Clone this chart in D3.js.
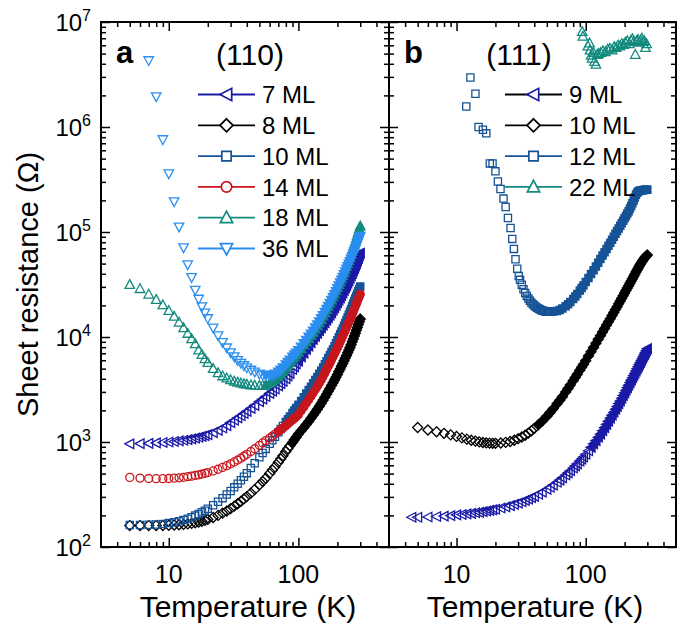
<!DOCTYPE html>
<html lang="en">
<head>
<meta charset="UTF-8">
<title>Sheet resistance vs temperature</title>
<script src="https://d3js.org/d3.v7.min.js"></script>
<style>
  body { margin: 0; background: #fff; }
  svg text { font-family: "Liberation Sans", Arial, sans-serif; fill: #000; }
  .tick line { stroke: #000; stroke-width: 1.5; }
</style>
</head>
<body>
<div id="chart"></div>
<script>
// ---- data (temperature in K, sheet resistance in ohm) ----

// panel a (110): shared temperature grid
const gridA = [5,6,7,8,9,10,11,12,13,14,15,16,17,18,19,20,
  22,24,26,28,30,32,34,36,38,40,
  43,46,50,53,56,60,63,66,70,73,76,80,83,86,90,93,96,100,
  105,110,115,120,125,130,135,140,145,150,155,160,165,170,175,180,185,190,195,200,
  205,210,215,220,225,230,235,240,245,250,255,260,265,270,275,280,285,290,295,300];

const r7 = [960,965,970,980,990,1000,1012,1025,1040,1055,1070,1090,1110,1130,1150,1175,
  1230,1290,1360,1430,1530,1610,1700,1780,1870,1960,
  2090,2230,2420,2560,2710,2900,3050,3200,3420,3600,3780,4000,4250,4500,4900,5200,5550,5900,
  6450,7000,7600,8200,8850,9500,10150,10800,11500,12200,12950,13700,14500,15300,16150,17000,18000,19000,20100,21200,
  22400,23600,24900,26300,27800,29300,30900,32600,34400,36300,38300,40400,42600,45000,47400,50000,52900,56000,59400,63000];

const r8 = [160,160,160,160,160,161,162,163,164,166,168,170,173,176,179,183,
  191,200,210,220,232,245,258,272,287,302,
  326,352,390,420,452,500,540,580,640,690,740,810,865,920,990,1050,1110,1190,
  1280,1370,1470,1570,1680,1800,1920,2050,2190,2340,2500,2670,2850,3040,3240,3450,3670,3900,4140,4400,
  4680,4970,5280,5600,5940,6300,6680,7080,7500,7940,8450,9000,9580,10200,10860,11570,12320,13120,13970,14880];

const r10 = [162,162,163,164,166,169,172,176,181,186,192,199,206,214,222,231,
  250,270,292,316,342,370,400,432,466,505,
  565,628,715,785,860,960,1040,1120,1240,1330,1420,1550,1650,1750,1890,2000,2110,2260,
  2460,2670,2890,3120,3360,3620,3890,4170,4470,4780,5130,5500,5890,6300,6730,7180,7650,8150,8700,9300,
  9930,10600,11300,12000,12800,13600,14500,15400,16400,17400,18500,19600,20800,22000,23300,24600,25900,27300,28700,30200];

const r14 = [460,453,449,447,447,449,452,456,461,467,473,480,487,495,503,512,
  530,550,572,595,620,646,673,702,732,763,
  812,862,930,980,1030,1090,1140,1190,1260,1310,1360,1430,1490,1550,1620,1680,1740,1820,
  1990,2160,2340,2530,2730,2940,3160,3390,3640,3900,4220,4550,4900,5270,5660,6060,6490,6940,7410,7900,
  8450,9020,9620,10250,10900,11600,12350,13100,13850,14600,15500,16450,17450,18500,19600,20750,21950,23200,24350,25500];

const r18 = [31500,28800,25500,22700,20200,17800,15700,13800,12200,10800,9600,8600,7500,6800,6200,5700,
  5000,4550,4250,4050,3900,3790,3700,3630,3580,3540,
  3490,3460,3440,3450,3500,3620,3750,3900,4150,4400,4700,5100,5450,5750,6150,6450,6750,7150,
  7700,8350,9000,9650,10350,11100,11900,12750,13650,14650,15800,17000,18250,19600,21000,22500,24100,25800,27600,29500,
  31500,33600,35900,38300,40900,43700,46700,49900,53300,57000,61000,65300,70000,75000,80500,86500,93000,100000,107000,114000];

const r36 = [null,null,4.3e6,1.95e6,7.6e5,3.6e5,1.95e5,1.12e5,7.1e4,4.9e4,3.7e4,2.8e4,2.3e4,1.95e4,1.7e4,1.5e4,
  12200,10300,8900,7900,7100,6500,6000,5650,5350,5100,
  4850,4650,4450,4350,4300,4300,4350,4450,4650,4850,5100,5450,5750,6050,6450,6750,7050,7450,
  8050,8700,9350,10000,10700,11450,12250,13100,14000,15000,16100,17250,18450,19700,21000,22400,23900,25500,27200,29000,
  30900,32900,35000,37200,39500,41900,44400,47000,49700,52500,55500,58700,62100,65700,69500,73500,77700,82100,86700,91500];

// panel b (111)
const gridB = [4.5].concat(gridA);

const r9 = [192,
  192,193,195,197,199,202,204,207,209,212,214,217,220,223,226,229,
  235,241,248,255,262,270,278,286,295,304,
  318,333,354,371,389,414,434,455,485,508,532,565,592,620,658,688,720,765,
  825,890,960,1030,1110,1190,1280,1370,1470,1580,1690,1800,1920,2050,2180,2320,2460,2610,2770,2940,
  3110,3290,3480,3680,3880,4090,4300,4520,4750,4990,5230,5480,5740,6000,6270,6550,6840,7130,7430,7740];

const r10b = [null,
  1375,1300,1250,1210,1170,1130,1095,1065,1040,1020,1003,990,980,975,972,972,
  978,992,1012,1040,1075,1115,1160,1215,1280,1350,
  1460,1580,1760,1910,2070,2310,2500,2700,3000,3240,3490,3840,4120,4410,4820,5140,5480,5950,
  6600,7250,7950,8700,9500,10300,11150,12050,13000,13950,14950,16000,17100,18250,19450,20700,22000,23350,24750,26200,
  27700,29250,30850,32500,34200,35950,37750,39600,41500,43450,45400,47400,49300,51200,53000,54800,56400,57900,59300,60500];

const t12 = [11.9,12.8,14.0,14.8,16.0,17.0,18.1,19.0,20.0,20.9,21.9,23.1,24.0,25.0,26.2,27.0,27.8,28.6,29.5,30.3,
  31,32,33,34,35,36,37,38,39,40,41,42,43,44,45,46,47,48,49,50,51,52,53,54,
  56,60,63,66,70,73,76,80,83,86,90,93,96,100,
  105,110,115,120,125,130,135,140,145,150,155,160,165,170,175,180,185,190,195,200,
  205,210,215,220,225,230,235,240,245,250,255,260,265,270,275,280,285,290,295,300];
const r12 = [1.57e6,2.96e6,2.07e6,1.0e6,9.4e5,8.7e5,4.5e5,4.5e5,3.78e5,3.03e5,2.57e5,2.08e5,1.73e5,1.36e5,1.09e5,8.6e4,6.9e4,5.5e4,4.46e4,3.8e4,
  35000,31500,28500,26300,24600,23200,22100,21200,20500,19900,19400,19000,18650,18350,18100,17900,17750,17600,17500,17450,17400,17400,17400,17450,
  17500,17700,18100,18700,19600,20500,21500,23000,24300,25700,27700,29300,31000,33400,
  36500,39800,43300,47000,51000,55200,59600,64200,69000,74000,79200,84600,90200,96000,102000,108000,114500,121000,128000,135000,
  142000,150000,158000,167000,177000,188000,200000,213000,226000,237000,243000,246000,248000,249000,250000,251000,251000,252000,252000,253000];

const t22 = [94,95,104,107,108,110,112,115,117,120,
  123,126,131,136,142,148,154,160,166,172,
  178,184,190,196,203,210,217,224,230,236,
  242,248,254,260,266,272,278,284,290,296];
const r22 = [8.1e6,7.3e6,5.9e6,6.3e6,5.4e6,4.8e6,4.5e6,5.1e6,4.2e6,3.95e6,
  4.9e6,5.0e6,5.1e6,5.3e6,5.2e6,5.5e6,5.6e6,5.4e6,5.8e6,5.7e6,
  6.0e6,5.9e6,6.2e6,6.1e6,6.4e6,6.6e6,6.2e6,6.7e6,6.9e6,6.5e6,
  4.9e6,6.6e6,6.8e6,6.4e6,6.7e6,7.0e6,6.5e6,6.6e6,5.7e6,6.2e6];

// axis ticks
const xMajor = [10, 100];
const xMinor = [4,5,6,7,8,9,20,30,40,50,60,70,80,90,200,300,400];
const yMajor = [1e2,1e3,1e4,1e5,1e6,1e7];
const yExp = [2,3,4,5,6,7];

// ---- layout ----
const W = 685, H = 627;
const plotTop = 22, plotBottom = 547;

const navy = "#1a1aa6", blue = "#165396", red = "#c8161d", teal = "#138a7e", sky = "#2b8ef0";

// solid: temperature above which the dense original markers merge into a solid band
const panels = [
  { x0: 101, x1: 389, letter: "a", letterX: 116, orient: "(110)", orientX: 250,
    legX0: 198, legX1: 255, legM: 226.5, legT: 262, titleX: 248,
    series: [
      { label: "7 ML",  t: gridA, r: r7,  color: navy,   line: navy,   shape: "left",    solid: 100 },
      { label: "8 ML",  t: gridA, r: r8,  color: "#000", line: "#000", shape: "diamond", solid: 90 },
      { label: "10 ML", t: gridA, r: r10, color: blue,   line: blue,   shape: "square",  solid: 80 },
      { label: "14 ML", t: gridA, r: r14, color: red,    line: red,    shape: "circle",  solid: 70 },
      { label: "18 ML", t: gridA, r: r18, color: teal,   line: teal,   shape: "up",      solid: 56 },
      { label: "36 ML", t: gridA, r: r36, color: sky,    line: sky,    shape: "down",    solid: 56 }
    ] },
  { x0: 389, x1: 676, letter: "b", letterX: 404, orient: "(111)", orientX: 519,
    legX0: 505, legX1: 562, legM: 533.5, legT: 569, titleX: 535,
    series: [
      { label: "9 ML",  t: gridB, r: r9,   color: navy,   line: "#000", shape: "left",    solid: 110 },
      { label: "10 ML", t: gridB, r: r10b, color: "#000", line: "#000", shape: "diamond", solid: 43 },
      { label: "12 ML", t: t12,   r: r12,  color: blue,   line: blue,   shape: "square",  solid: 56 },
      { label: "22 ML", t: t22,   r: r22,  color: teal,   line: teal,   shape: "up",      solid: 1e9 }
    ] }
];

// open marker outlines, centred on 0,0
function markerPath(kind, a) {
  switch (kind) {
    case "left":    return `M${-a},0L${0.8*a},${-0.95*a}L${0.8*a},${0.95*a}Z`;
    case "up":      return `M0,${-a}L${0.95*a},${0.75*a}L${-0.95*a},${0.75*a}Z`;
    case "down":    return `M0,${a}L${0.95*a},${-0.75*a}L${-0.95*a},${-0.75*a}Z`;
    case "diamond": return `M0,${-a}L${a},0L0,${a}L${-a},0Z`;
    case "square": { const s = 0.72*a; return `M${-s},${-s}H${s}V${s}H${-s}Z`; }
    case "circle": { const c = 0.8*a; return `M${c},0A${c},${c} 0 1,1 ${-c},0A${c},${c} 0 1,1 ${c},0Z`; }
  }
}

const svg = d3.select("#chart").append("svg")
  .attr("width", W).attr("height", H);

const y = d3.scaleLog().domain([1e2, 1e7]).range([plotBottom, plotTop]);

const yMinor = [];
yMajor.slice(0, -1).forEach(v => { for (let k = 2; k <= 9; k++) yMinor.push(v * k); });

function tickAxis(g, axis, vals, size) {
  g.call(axis.tickValues(vals).tickSize(size).tickFormat(""));
  g.select(".domain").remove();
}

panels.forEach((p, pi) => {
  const x = d3.scaleLog().domain([3, 500]).range([p.x0, p.x1]);
  const g = svg.append("g");

  g.append("clipPath").attr("id", "clip" + pi)
    .append("rect")
    .attr("x", p.x0).attr("y", plotTop)
    .attr("width", p.x1 - p.x0).attr("height", plotBottom - plotTop);

  const plot = g.append("g").attr("clip-path", `url(#clip${pi})`);

  p.series.forEach(s => {
    const pts = s.t.map((t, i) => [t, s.r[i]]).filter(d => d[1] != null);
    plot.append("g")
      .selectAll("path")
      .data(pts)
      .join("path")
      .attr("transform", d => `translate(${x(d[0])},${y(d[1])})`)
      .attr("d", markerPath(s.shape, 5))
      .attr("fill", d => d[0] >= s.solid ? s.color : "none")
      .attr("stroke", s.color)
      .attr("stroke-width", 1.3);
  });

  // ticks on all four sides, pointing inward
  [[xMajor, 9], [xMinor, 5]].forEach(([vals, len]) => {
    tickAxis(g.append("g").attr("transform", `translate(0,${plotBottom})`), d3.axisBottom(x), vals, -len);
    tickAxis(g.append("g").attr("transform", `translate(0,${plotTop})`), d3.axisTop(x), vals, -len);
  });
  [[yMajor, 9], [yMinor, 5]].forEach(([vals, len]) => {
    tickAxis(g.append("g").attr("transform", `translate(${p.x0},0)`), d3.axisLeft(y), vals, -len);
    tickAxis(g.append("g").attr("transform", `translate(${p.x1},0)`), d3.axisRight(y), vals, -len);
  });

  g.append("rect")
    .attr("x", p.x0).attr("y", plotTop)
    .attr("width", p.x1 - p.x0).attr("height", plotBottom - plotTop)
    .attr("fill", "none").attr("stroke", "#000").attr("stroke-width", 2);

  // x tick labels and title
  g.selectAll("text.xlab")
    .data(xMajor)
    .join("text")
    .attr("class", "xlab")
    .attr("x", d => x(d))
    .attr("y", 583)
    .attr("text-anchor", "middle")
    .attr("font-size", 25)
    .text(d => d);

  g.append("text")
    .attr("x", p.titleX).attr("y", 617)
    .attr("text-anchor", "middle")
    .attr("font-size", 30)
    .text("Temperature (K)");

  // panel letter and orientation
  g.append("text")
    .attr("x", p.letterX).attr("y", 63)
    .attr("font-size", 31).attr("font-weight", "bold")
    .text(p.letter);
  g.append("text")
    .attr("x", p.orientX).attr("y", 65)
    .attr("text-anchor", "middle")
    .attr("font-size", 30)
    .text(p.orient);

  // legend
  const leg = g.selectAll("g.leg")
    .data(p.series)
    .join("g")
    .attr("class", "leg")
    .attr("transform", (d, i) => `translate(0,${94.5 + i * 30.8})`);
  leg.append("line")
    .attr("x1", p.legX0).attr("x2", p.legX1)
    .attr("stroke", d => d.line).attr("stroke-width", 1.8);
  leg.append("path")
    .attr("transform", `translate(${p.legM},0)`)
    .attr("d", d => markerPath(d.shape, 6.5))
    .attr("fill", "#fff")
    .attr("stroke", d => d.color)
    .attr("stroke-width", 1.7);
  leg.append("text")
    .attr("x", p.legT).attr("y", 8.6)
    .attr("font-size", 24)
    .text(d => d.label);
});

// y tick labels (left panel only)
const ylab = svg.selectAll("text.ylab")
  .data(yExp)
  .join("text")
  .attr("class", "ylab")
  .attr("x", 91)
  .attr("y", d => y(Math.pow(10, d)) + 9)
  .attr("text-anchor", "end")
  .attr("font-size", 24);
ylab.append("tspan").text("10");
ylab.append("tspan").attr("dy", -10).attr("font-size", 16).text(d => d);

svg.append("text")
  .attr("transform", `translate(38,${(plotTop + plotBottom) / 2}) rotate(-90)`)
  .attr("text-anchor", "middle")
  .attr("font-size", 29)
  .text("Sheet resistance (\u03A9)");
</script>
</body>
</html>
